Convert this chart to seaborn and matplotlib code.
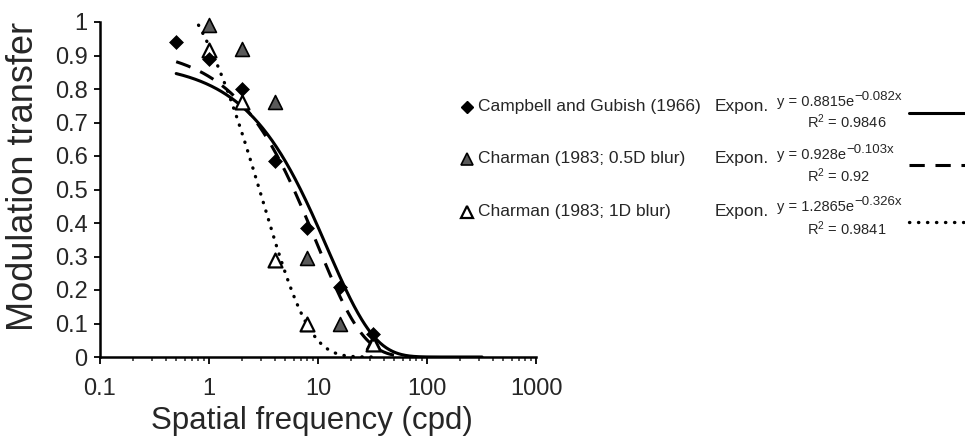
import numpy as np
import pandas as pd
import matplotlib
matplotlib.use("Agg")
import matplotlib.pyplot as plt
from matplotlib.lines import Line2D
import seaborn as sns

# ---------------- data ----------------
campbell_x = [0.5, 1, 2, 4, 8, 16, 32]
campbell_y = [0.94, 0.89, 0.80, 0.585, 0.385, 0.21, 0.07]

charman05_x = [1, 2, 4, 8, 16, 32]
charman05_y = [0.99, 0.92, 0.76, 0.295, 0.10, 0.045]

charman1_x = [1, 2, 4, 8, 32]
charman1_y = [0.915, 0.76, 0.29, 0.10, 0.04]

series_names = ["Campbell and Gubish (1966)",
                "Charman (1983; 0.5D blur)",
                "Charman (1983; 1D blur)"]
fit_a = [0.8815, 0.928, 1.2865]
fit_b = [0.082, 0.103, 0.326]
fit_r2 = ["0.9846", "0.92", "0.9841"]
fit_a_txt = ["0.8815", "0.928", "1.2865"]
fit_b_txt = ["0.082", "0.103", "0.326"]
fit_range = [(0.5, 320), (0.5, 64), (0.73, 36)]

x_ticks = [0.1, 1, 10, 100, 1000]
x_ticklabels = ["0.1", "1", "10", "100", "1000"]
y_ticks = [0, 0.1, 0.2, 0.3, 0.4, 0.5, 0.6, 0.7, 0.8, 0.9, 1]
y_ticklabels = ["0", "0.1", "0.2", "0.3", "0.4", "0.5", "0.6", "0.7", "0.8", "0.9", "1"]

# ---------------- style ----------------
sns.set_style("ticks")
plt.rcParams["font.family"] = ["Liberation Sans", "DejaVu Sans"]
plt.rcParams["mathtext.fontset"] = "custom"
plt.rcParams["mathtext.rm"] = "Liberation Sans"
plt.rcParams["mathtext.it"] = "Liberation Sans"
plt.rcParams["mathtext.default"] = "regular"

W, H = 965, 441
fig = plt.figure(figsize=(W / 100, H / 100), dpi=100)
AX_L, AX_R, AX_T, AX_B = 100, 536, 22, 357
ax = fig.add_axes([AX_L / W, 1 - AX_B / H, (AX_R - AX_L) / W, (AX_B - AX_T) / H])

# fitted exponential trend lines (from the equations shown)
line_styles = [
    dict(linestyle="-", linewidth=2.2),
    dict(linestyle=(0, (5, 3.5)), linewidth=2.2),
    dict(linestyle=(0, (0.1, 2.6)), linewidth=2.4, dash_capstyle="round"),
]
for a, b, (x0, x1), ls in zip(fit_a, fit_b, fit_range, line_styles):
    xs = np.geomspace(x0, x1, 400)
    df_fit = pd.DataFrame({"x": xs, "y": a * np.exp(-b * xs)})
    sns.lineplot(data=df_fit, x="x", y="y", ax=ax, color="black", **ls)

# data points
df_c = pd.DataFrame({"x": campbell_x, "y": campbell_y})
df_05 = pd.DataFrame({"x": charman05_x, "y": charman05_y})
df_1 = pd.DataFrame({"x": charman1_x, "y": charman1_y})
sns.scatterplot(data=df_05, x="x", y="y", ax=ax, marker="^", s=100,
                color="#5a5a5a", edgecolor="black", linewidth=1.2, zorder=4, clip_on=False)
sns.scatterplot(data=df_1, x="x", y="y", ax=ax, marker="^", s=100,
                color="white", edgecolor="black", linewidth=1.6, zorder=4, clip_on=False)
sns.scatterplot(data=df_c, x="x", y="y", ax=ax, marker="D", s=50,
                color="black", edgecolor="black", linewidth=0.5, zorder=5, clip_on=False)

ax.set_xscale("log")
ax.set_xlim(0.1, 1000)
ax.set_ylim(0, 1)
ax.set_xticks(x_ticks)
ax.set_xticklabels(x_ticklabels)
ax.set_yticks(y_ticks)
ax.set_yticklabels(y_ticklabels)
ax.tick_params(axis="both", labelsize=17, width=1.3, length=4, direction="out", color="black")
ax.tick_params(axis="x", which="major", length=5, pad=10)
ax.tick_params(axis="x", which="minor", length=3, width=1.1)
ax.tick_params(axis="y", pad=5)
for s in ["top", "right"]:
    ax.spines[s].set_visible(False)
for s in ["left", "bottom"]:
    ax.spines[s].set_linewidth(1.8)
    ax.spines[s].set_color("black")

ax.set_xlabel("")
ax.set_ylabel("")
fig.text(312 / W, 1 - 421 / H, "Spatial frequency (cpd)", fontsize=22.5,
         ha="center", va="center")
fig.text(24 / W, 1 - 176 / H, "Modulation transfer", fontsize=26,
         ha="center", va="center", rotation=90)

# ---------------- legend (manual) ----------------
def fx(x):
    return x / W


def fy(y):
    return 1 - y / H


renderer = fig.canvas.get_renderer()
rows_y = [107, 159, 212]
eq_dy = [-5, -4, -5]
r2_dy = [15, 17, 17]
line_dy = [6, 6, 10]
marker_kw = [
    dict(marker="D", markersize=6, markerfacecolor="black", markeredgecolor="black"),
    dict(marker="^", markersize=9, markerfacecolor="#5a5a5a", markeredgecolor="black", markeredgewidth=1.2),
    dict(marker="^", markersize=9, markerfacecolor="white", markeredgecolor="black", markeredgewidth=1.6),
]
for i in range(3):
    y = rows_y[i]
    fig.add_artist(Line2D([fx(467)], [fy(y)], transform=fig.transFigure,
                          linestyle="none", **marker_kw[i]))
    fig.text(fx(478), fy(y), series_names[i], fontsize=12.5, ha="left", va="center")
    fig.text(fx(715), fy(y), "Expon.", fontsize=12.5, ha="left", va="center")
    base = fig.text(fx(777), fy(y + eq_dy[i]), "y = " + fit_a_txt[i] + "e",
                    fontsize=10.5, ha="left", va="center")
    bb = base.get_window_extent(renderer=renderer)
    fig.text(fx(bb.x1 + 0.5), fy(y + eq_dy[i] - 5), "\u2212" + fit_b_txt[i] + "x",
             fontsize=9.5, ha="left", va="center")
    fig.text(fx(807), fy(y + r2_dy[i]), "R$^{2}$ = " + fit_r2[i],
             fontsize=10.5, ha="left", va="center")
    ls = dict(line_styles[i])
    fig.add_artist(Line2D([fx(909), fx(966)], [fy(y + line_dy[i])] * 2,
                          transform=fig.transFigure, color="black", **ls))

fig.savefig("out.png", dpi=100)
